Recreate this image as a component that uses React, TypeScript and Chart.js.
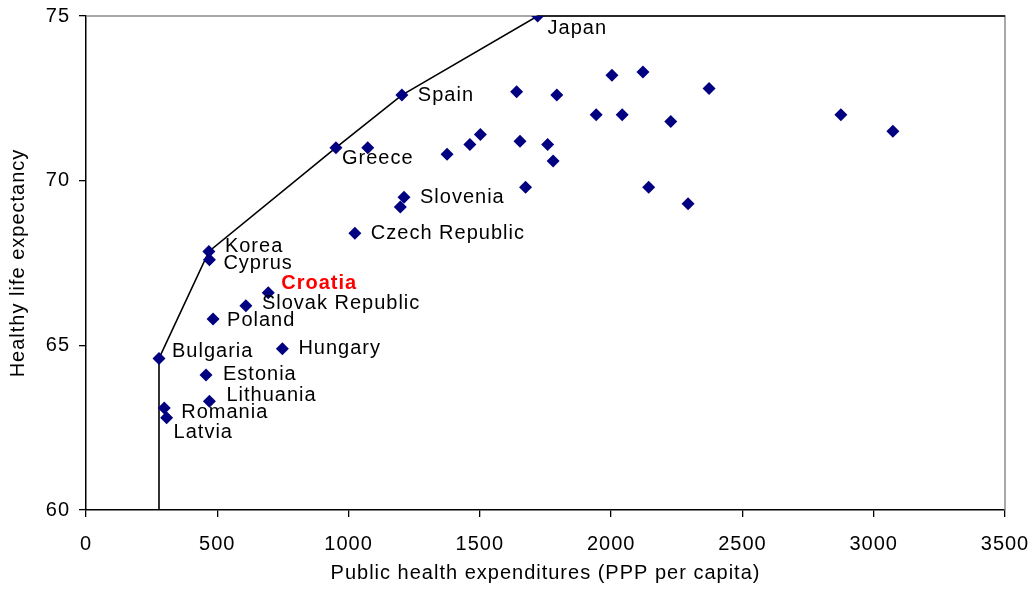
import { useEffect, useRef } from 'react';
import { Chart, registerables } from 'chart.js';

Chart.register(...registerables);

// ---- Data ----
const countryNames = [
  'Japan', 'Spain', 'Greece', '', 'Korea', 'Cyprus', 'Croatia', 'Slovak Republic',
  'Poland', 'Bulgaria', 'Hungary', 'Estonia', 'Lithuania', 'Romania', 'Latvia',
  'Czech Republic', 'Slovenia', '', '', '', '', '', '', '', '', '', '', '', '', '',
  '', '', '', '', '', '', '',
];
const publicHealthSpending = [
  1720, 1203, 952, 1073, 468, 470, 694, 609,
  484, 278, 748, 457, 470, 298, 307,
  1024, 1211, 1197, 1375, 1462, 1502, 1640, 1793, 1653, 1758, 1779, 1674, 2003, 2121, 1943,
  2042, 2227, 2143, 2293, 2373, 2875, 3073,
];
const healthyLifeExpectancy = [
  75.0, 72.6, 71.0, 71.0, 67.85, 67.6, 66.6, 66.2,
  65.8, 64.6, 64.9, 64.1, 63.3, 63.1, 62.8,
  68.4, 69.5, 69.2, 70.8, 71.1, 71.4, 72.7, 72.6, 71.2, 71.1, 70.6, 69.8, 73.2, 73.3, 72.0,
  72.0, 71.8, 69.8, 69.3, 72.8, 72.0, 71.5,
];
const frontierSpending = [278, 278, 468, 952, 1203, 1720, 3500];
const frontierLifeExpectancy = [60, 64.6, 67.85, 71.0, 72.6, 75, 75];

const xTickValues = [0, 500, 1000, 1500, 2000, 2500, 3000, 3500];
const yTickValues = [60, 65, 70, 75];

// ---- Styling (kept apart from data) ----
const FONT = "'Liberation Sans', Arial, sans-serif";
const labelOffsets: Record<string, [number, number]> = {
  Japan: [10, 12],
  Spain: [16, 0],
  Greece: [6, 11],
  Korea: [16, -5],
  Cyprus: [14, 4],
  Croatia: [13, -9],
  'Slovak Republic': [16, -2],
  Poland: [14, 1],
  Bulgaria: [13, -7],
  Hungary: [16, 0],
  Estonia: [17, 0],
  Lithuania: [17, -6],
  Romania: [17, 5],
  Latvia: [7, 15],
  'Czech Republic': [16, 0],
  Slovenia: [16, 0],
};

const spacingPlugin = {
  id: 'spacing',
  beforeDraw(chart: any) {
    (chart.ctx as any).letterSpacing = '1px';
  },
};

const framePlugin = {
  id: 'frame',
  beforeDatasetsDraw(chart: any) {
    const { ctx, chartArea } = chart;
    const { left, right, top, bottom } = chartArea;
    ctx.save();
    ctx.strokeStyle = '#8c8c8c';
    ctx.lineWidth = 1.5;
    ctx.beginPath();
    ctx.moveTo(left, top);
    ctx.lineTo(right, top);
    ctx.lineTo(right, bottom);
    ctx.stroke();
    ctx.restore();
  },
};

const labelPlugin = {
  id: 'countryLabels',
  afterDatasetsDraw(chart: any) {
    const meta = chart.getDatasetMeta(0);
    const ctx = chart.ctx;
    ctx.save();
    (ctx as any).letterSpacing = '1px';
    ctx.textBaseline = 'middle';
    ctx.textAlign = 'left';
    meta.data.forEach((pt: any, i: number) => {
      const name = countryNames[i];
      if (!name) return;
      const [dx, dy] = labelOffsets[name] || [14, 0];
      const highlight = name === 'Croatia';
      ctx.font = `${highlight ? 'bold ' : ''}20px ${FONT}`;
      ctx.fillStyle = highlight ? '#ff0000' : '#000000';
      ctx.fillText(name, pt.x + dx, pt.y + dy);
    });
    ctx.restore();
  },
};

export default function App() {
  const ref = useRef<HTMLCanvasElement>(null);

  useEffect(() => {
    if (!ref.current) return;
    const chart = new Chart(ref.current, {
      type: 'scatter',
      data: {
        datasets: [
          {
            label: 'Countries',
            data: publicHealthSpending.map((x, i) => ({ x, y: healthyLifeExpectancy[i] })),
            pointStyle: 'rectRot',
            pointRadius: 6.5,
            pointHoverRadius: 6.5,
            backgroundColor: '#000080',
            borderColor: '#000080',
            borderWidth: 0,
          },
          {
            label: 'Frontier',
            data: frontierSpending.map((x, i) => ({ x, y: frontierLifeExpectancy[i] })),
            showLine: true,
            pointRadius: 0,
            borderColor: '#000000',
            borderWidth: 1.6,
            clip: false as any,
          } as any,
        ],
      },
      options: {
        animation: false,
        responsive: true,
        maintainAspectRatio: false,
        layout: { padding: { top: 16, right: 30, left: 0, bottom: 0 } },
        plugins: { legend: { display: false }, tooltip: { enabled: false } },
        scales: {
          x: {
            type: 'linear',
            min: 0,
            max: 3500,
            afterBuildTicks: (scale: any) => {
              scale.ticks = xTickValues.map((v) => ({ value: v }));
            },
            afterFit: (scale: any) => {
              scale.height = 79;
              scale.paddingLeft = 0;
              scale.paddingRight = 0;
            },
            grid: { drawOnChartArea: false, drawTicks: true, tickLength: 7, color: '#000000', lineWidth: 1.3 },
            border: { display: true, color: '#000000', width: 1.5 },
            ticks: {
              color: '#000000',
              font: { family: FONT, size: 20 },
              padding: 15,
              maxRotation: 0,
              autoSkip: false,
              callback: (v: any) => String(v),
            },
            title: {
              display: true,
              text: 'Public health expenditures (PPP per capita)',
              color: '#000000',
              font: { family: FONT, size: 20 },
              padding: { top: 0, bottom: 4 },
            },
          },
          y: {
            type: 'linear',
            min: 60,
            max: 75,
            afterBuildTicks: (scale: any) => {
              scale.ticks = yTickValues.map((v) => ({ value: v }));
            },
            afterFit: (scale: any) => {
              scale.width = 86;
              scale.paddingTop = 0;
              scale.paddingBottom = 0;
            },
            grid: { drawOnChartArea: false, drawTicks: true, tickLength: 7, color: '#000000', lineWidth: 1.3 },
            border: { display: true, color: '#000000', width: 1.5 },
            ticks: {
              color: '#000000',
              font: { family: FONT, size: 20 },
              padding: 9,
              callback: (v: any) => String(v),
            },
            title: {
              display: true,
              text: 'Healthy life expectancy',
              color: '#000000',
              font: { family: FONT, size: 20 },
              padding: { top: 6, bottom: 0 },
            },
          },
        },
      },
      plugins: [spacingPlugin, framePlugin, labelPlugin],
    });
    return () => chart.destroy();
  }, []);

  return (
    <div style={{ position: 'fixed', left: 0, top: 0, width: 1035, height: 589, background: '#ffffff' }}>
      <canvas ref={ref} />
    </div>
  );
}
